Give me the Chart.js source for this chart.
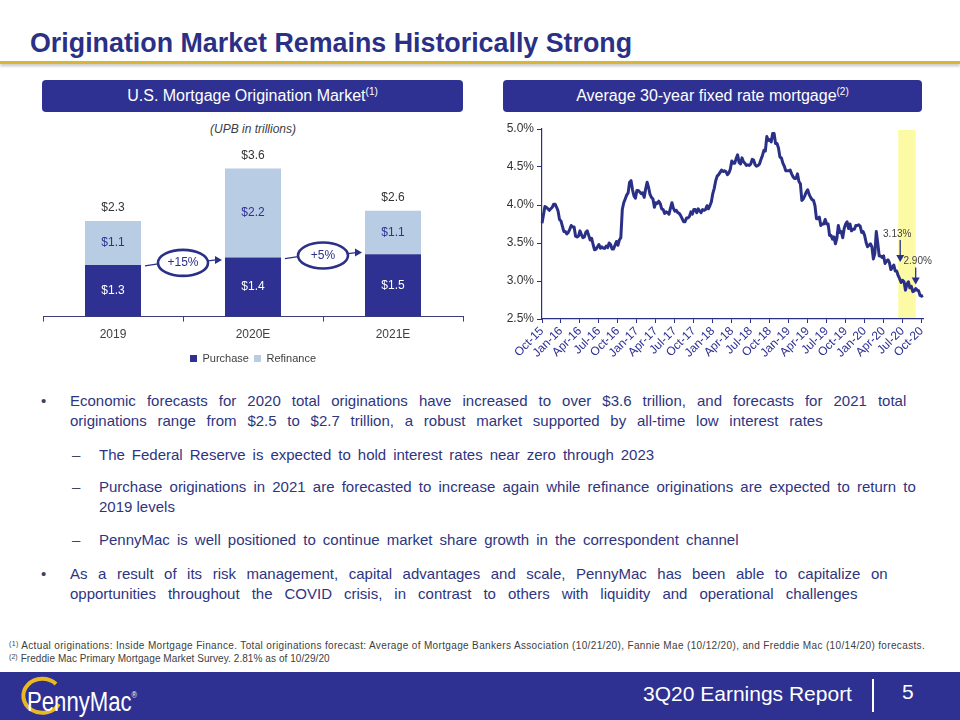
<!DOCTYPE html>
<html>
<head>
<meta charset="utf-8">
<script src="https://cdn.jsdelivr.net/npm/chart.js@4.4.1/dist/chart.umd.min.js"></script>
<style>
  body { margin: 0; width: 960px; height: 720px; position: relative; overflow: hidden; background: #fff;
         font-family: "Liberation Sans", Arial, sans-serif; }
  .abs { position: absolute; white-space: nowrap; }
  .title { left: 30px; top: 30px; font-weight: bold; font-size: 27px; line-height: 27px; color: #2b3087; transform-origin: left top; }
  .rule { position: absolute; left: 0; top: 61px; width: 960px; height: 3px; background: #d8b534; box-shadow: 0 2px 3px rgba(0,0,0,0.25); }
  .hdr { position: absolute; top: 80px; height: 32px; background: #2e3192; border-radius: 4px; color: #fff;
         font-size: 16px; line-height: 32px; text-align: center; }
  .hdr sup { font-size: 10px; line-height: 0; vertical-align: 6px; }
  .sub { left: 40px; width: 426px; top: 122px; text-align: center; font-style: italic; font-size: 12px; color: #404040; }
  .line { font-size: 15px; line-height: 20px; color: #2e3580; }
  .mark { font-size: 15px; line-height: 20px; color: #404060; }
  .note { font-size: 10px; line-height: 12px; color: #404040; }
  .note sup { font-size: 7px; line-height: 0; vertical-align: 3px; }
  .footer { position: absolute; left: 0; top: 672px; width: 960px; height: 48px; background: #2e3192; }
  .ftxt { color: #fff; font-size: 21px; line-height: 24px; }
</style>
</head>
<body>
<div class="abs title" id="title">Origination Market Remains Historically Strong</div>
<div class="rule"></div>

<div class="hdr" style="left:42px;width:421px;">U.S. Mortgage Origination Market<sup>(1)</sup></div>
<div class="hdr" style="left:503px;width:419px;">Average 30-year fixed rate mortgage<sup>(2)</sup></div>
<div class="abs sub">(UPB in trillions)</div>

<canvas id="barChart" class="abs" width="432" height="234" style="left:38px;top:140px;"></canvas>
<canvas id="rateChart" class="abs" width="440" height="251" style="left:495px;top:118px;"></canvas>

<div class="abs mark" style="left:41px;top:391px;">•</div>
<div class="abs line fit" data-w="836" style="left:70px;top:391px;">Economic forecasts for 2020 total originations have increased to over $3.6 trillion, and forecasts for 2021 total</div>
<div class="abs line fit" data-w="753" style="left:70px;top:411px;">originations range from $2.5 to $2.7 trillion, a robust market supported by all-time low interest rates</div>
<div class="abs mark" style="left:72px;top:445px;">–</div>
<div class="abs line fit" data-w="555" style="left:99px;top:445px;">The Federal Reserve is expected to hold interest rates near zero through 2023</div>
<div class="abs mark" style="left:72px;top:477px;">–</div>
<div class="abs line fit" data-w="817" style="left:99px;top:477px;">Purchase originations in 2021 are forecasted to increase again while refinance originations are expected to return to</div>
<div class="abs line" style="left:99px;top:497px;">2019 levels</div>
<div class="abs mark" style="left:72px;top:530px;">–</div>
<div class="abs line fit" data-w="640" style="left:99px;top:530px;">PennyMac is well positioned to continue market share growth in the correspondent channel</div>
<div class="abs mark" style="left:41px;top:564px;">•</div>
<div class="abs line fit" data-w="818" style="left:70px;top:564px;">As a result of its risk management, capital advantages and scale, PennyMac has been able to capitalize on</div>
<div class="abs line fit" data-w="787" style="left:70px;top:584px;">opportunities throughout the COVID crisis, in contrast to others with liquidity and operational challenges</div>

<div class="abs note fit" data-w="916" data-mode="letter" style="left:9px;top:640px;"><sup>(1)</sup> Actual originations: Inside Mortgage Finance. Total originations forecast: Average of Mortgage Bankers Association (10/21/20), Fannie Mae (10/12/20), and Freddie Mac (10/14/20) forecasts.</div>
<div class="abs note fit" data-w="321" data-mode="letter" style="left:9px;top:653px;"><sup>(2)</sup> Freddie Mac Primary Mortgage Market Survey. 2.81% as of 10/29/20</div>

<div class="footer"></div>
<svg class="abs" style="left:12px;top:674px;" width="60" height="46">
  <path d="M 44 10 A 19 17 0 1 0 47 30" fill="none" stroke="#e9b923" stroke-width="4"/>
</svg>
<div class="abs" style="left:27px;top:681px;color:#fff;font-size:27px;line-height:28px;transform:scaleX(0.82);transform-origin:left top;">PennyMac<sup style="font-size:9px;vertical-align:13px;">®</sup></div>
<div class="abs ftxt" style="left:643px;top:682px;">3Q20 Earnings Report</div>
<div class="abs" style="left:872px;top:679px;width:2px;height:33px;background:#fff;"></div>
<div class="abs ftxt" style="left:902px;top:680px;">5</div>

<script>
// ---- U.S. mortgage origination market (UPB, $ trillions)
const categories = ['2019', '2020E', '2021E'];
const purchase = [1.26, 1.44, 1.52];
const refinance = [1.07, 2.17, 1.06];
const growthLabels = ['+15%', '+5%'];

// ---- Freddie Mac PMMS 30-year fixed rate, weekly (%)
const rates2015 = [3.76, 3.87, 3.98, 3.97, 3.95, 3.93, 3.95, 3.97, 4.01, 4.01];
const rates2016 = [3.97, 3.92, 3.81, 3.79, 3.72, 3.65, 3.65, 3.62, 3.64, 3.68, 3.73, 3.71, 3.71,
    3.59, 3.58, 3.59, 3.66, 3.61, 3.57, 3.58, 3.64, 3.66, 3.60, 3.54, 3.56, 3.48,
    3.41, 3.42, 3.45, 3.48, 3.43, 3.45, 3.43, 3.43, 3.46, 3.44, 3.50, 3.48, 3.42,
    3.42, 3.47, 3.52, 3.47, 3.54, 3.57, 3.94, 4.03, 4.08, 4.13, 4.16, 4.30, 4.32];
const rates2017 = [4.20, 4.12, 4.09, 4.19, 4.19, 4.17, 4.15, 4.16, 4.10, 4.21, 4.30, 4.23, 4.14,
    4.10, 4.08, 3.97, 4.03, 4.02, 4.05, 4.02, 3.95, 3.94, 3.89, 3.91, 3.90, 3.88,
    3.96, 4.03, 3.96, 3.92, 3.93, 3.90, 3.89, 3.86, 3.82, 3.78, 3.78, 3.83, 3.83,
    3.85, 3.91, 3.88, 3.94, 3.94, 3.90, 3.95, 3.92, 3.90, 3.94, 3.93, 3.94, 3.99];
const rates2018 = [3.95, 3.99, 4.04, 4.15, 4.22, 4.32, 4.38, 4.40, 4.43, 4.46, 4.44, 4.45, 4.44,
    4.40, 4.42, 4.47, 4.58, 4.55, 4.55, 4.61, 4.66, 4.56, 4.54, 4.62, 4.57, 4.55,
    4.52, 4.53, 4.52, 4.54, 4.60, 4.59, 4.53, 4.51, 4.52, 4.54, 4.60, 4.65, 4.72,
    4.71, 4.90, 4.85, 4.86, 4.83, 4.94, 4.94, 4.81, 4.81, 4.75, 4.63, 4.62, 4.55];
const rates2019 = [4.51, 4.45, 4.45, 4.45, 4.46, 4.41, 4.37, 4.35, 4.35, 4.41, 4.31, 4.28, 4.06,
    4.08, 4.12, 4.17, 4.20, 4.14, 4.10, 4.07, 4.06, 3.99, 3.82, 3.82, 3.84, 3.73,
    3.75, 3.75, 3.81, 3.75, 3.75, 3.60, 3.60, 3.55, 3.58, 3.49, 3.56, 3.73, 3.64,
    3.65, 3.57, 3.69, 3.75, 3.78, 3.69, 3.75, 3.66, 3.68, 3.68, 3.73, 3.73, 3.74];
const rates2020 = [3.72, 3.64, 3.65, 3.60, 3.51, 3.45, 3.47, 3.49, 3.45, 3.29, 3.36, 3.65, 3.50,
    3.33, 3.33, 3.31, 3.33, 3.23, 3.26, 3.28, 3.24, 3.15, 3.18, 3.21, 3.13, 3.13,
    3.07, 3.03, 2.98, 3.01, 2.99, 2.88, 2.96, 2.99, 2.91, 2.93, 2.86, 2.87, 2.90,
    2.88, 2.87, 2.81, 2.80, 2.81];
const tickLabels = ['Oct-15', 'Jan-16', 'Apr-16', 'Jul-16', 'Oct-16', 'Jan-17', 'Apr-17', 'Jul-17',
    'Oct-17', 'Jan-18', 'Apr-18', 'Jul-18', 'Oct-18', 'Jan-19', 'Apr-19', 'Jul-19', 'Oct-19',
    'Jan-20', 'Apr-20', 'Jul-20', 'Oct-20'];
const weeksPerTick = 13;
const q3Weeks = [244, 256];      // shaded quarter (first / last week index)
const calloutWeeks = [243, 256]; // end of Q2 and end of Q3

const rates = [].concat(rates2015, rates2016, rates2017, rates2018, rates2019, rates2020);
const weekLabels = rates.map((_, i) => i % weeksPerTick === 0 ? tickLabels[i / weeksPerTick] : '');

const NAVY = '#2e3192';
const LINE = '#2b3087';
Chart.defaults.font.family = "'Liberation Sans', Arial, sans-serif";
Chart.defaults.animation = false;

// stretch text lines to the widths of the slide
document.querySelectorAll('#title').forEach(el => {
    el.style.transform = 'scaleX(' + (602 / el.offsetWidth) + ')';
});
document.querySelectorAll('.fit').forEach(el => {
    const target = +el.dataset.w;
    const diff = target - el.offsetWidth;
    if (el.dataset.mode === 'letter') {
        el.style.letterSpacing = (diff / el.textContent.length) + 'px';
    } else {
        const spaces = (el.textContent.match(/ /g) || []).length;
        el.style.wordSpacing = (diff / spaces) + 'px';
    }
});

const barLabels = {
    id: 'barLabels',
    afterDatasetsDraw(chart) {
        const ctx = chart.ctx;
        ctx.save();
        ctx.textAlign = 'center';
        ctx.textBaseline = 'middle';
        ctx.font = "12px 'Liberation Sans', Arial, sans-serif";
        chart.data.datasets.forEach((ds, di) => {
            chart.getDatasetMeta(di).data.forEach((bar, i) => {
                ctx.fillStyle = di === 0 ? '#ffffff' : NAVY;
                ctx.fillText('$' + ds.data[i].toFixed(1), bar.x, (bar.y + bar.base) / 2);
            });
        });
        chart.getDatasetMeta(1).data.forEach((bar, i) => {
            ctx.fillStyle = '#333333';
            ctx.fillText('$' + (purchase[i] + refinance[i]).toFixed(1), bar.x, bar.y - 13);
        });
        ctx.restore();
    }
};

const growthBubbles = {
    id: 'growthBubbles',
    afterDatasetsDraw(chart) {
        const { ctx, scales: { x, y } } = chart;
        const half = chart.getDatasetMeta(0).data[0].width / 2;
        ctx.save();
        growthLabels.forEach((label, i) => {
            const x0 = x.getPixelForValue(i) + half;
            const x1 = x.getPixelForValue(i + 1) - half;
            const cx = (x.getPixelForValue(i) + x.getPixelForValue(i + 1)) / 2;
            const cy = y.getPixelForValue(purchase[i]) - 2;
            const rx = 25, ry = 13;
            ctx.strokeStyle = LINE;
            ctx.fillStyle = LINE;
            ctx.lineWidth = 1.3;
            ctx.beginPath();
            ctx.moveTo(x0 + 4, cy + 3);
            ctx.lineTo(cx - rx, cy + 1);
            ctx.moveTo(cx + rx, cy - 2);
            ctx.lineTo(x1 - 9, cy - 3);
            ctx.stroke();
            ctx.beginPath();
            ctx.moveTo(x1 - 3, cy - 3);
            ctx.lineTo(x1 - 10, cy - 7);
            ctx.lineTo(x1 - 10, cy + 1);
            ctx.closePath();
            ctx.fill();
            ctx.beginPath();
            ctx.ellipse(cx, cy, rx, ry, 0, 0, Math.PI * 2);
            ctx.fillStyle = '#fff';
            ctx.fill();
            ctx.lineWidth = 2.6;
            ctx.stroke();
            ctx.fillStyle = LINE;
            ctx.textAlign = 'center';
            ctx.textBaseline = 'middle';
            ctx.font = "12px 'Liberation Sans', Arial, sans-serif";
            ctx.fillText(label, cx, cy);
        });
        ctx.restore();
    }
};

new Chart(document.getElementById('barChart'), {
    type: 'bar',
    data: {
        labels: categories,
        datasets: [
            { label: 'Purchase', data: purchase, backgroundColor: NAVY, barPercentage: 0.4, categoryPercentage: 1 },
            { label: 'Refinance', data: refinance, backgroundColor: '#b8cce4', barPercentage: 0.4, categoryPercentage: 1 }
        ]
    },
    options: {
        responsive: false,
        layout: { padding: { left: 5, right: 7, top: 12.5, bottom: 0 } },
        plugins: {
            legend: {
                position: 'bottom',
                labels: { boxWidth: 7, boxHeight: 7, color: '#404040', font: { size: 11 }, padding: 5 }
            },
            tooltip: { enabled: false }
        },
        scales: {
            x: {
                stacked: true,
                grid: { display: true, drawOnChartArea: false, offset: true, tickLength: 5, color: '#3a3f7a' },
                border: { color: '#3a3f7a' },
                ticks: { color: '#404040', font: { size: 12 }, padding: 6 }
            },
            y: { stacked: true, display: false, min: 0, max: 4 }
        }
    },
    plugins: [barLabels, growthBubbles]
});

const quarterBand = {
    id: 'quarterBand',
    beforeDatasetsDraw(chart) {
        const { ctx, chartArea, scales: { x } } = chart;
        const x0 = x.getPixelForValue(q3Weeks[0]);
        const x1 = x.getPixelForValue(q3Weeks[1]);
        ctx.save();
        ctx.fillStyle = '#fdfaa6';
        ctx.fillRect(x0, chartArea.top + 1, x1 - x0, chartArea.bottom - chartArea.top - 2);
        ctx.restore();
    },
    afterDatasetsDraw(chart) {
        const { ctx, scales: { x, y } } = chart;
        ctx.save();
        calloutWeeks.forEach((w, k) => {
            const px = x.getPixelForValue(w) + (k === 0 ? 3.5 : 0);
            const tip = y.getPixelForValue(rates[w]) - (k === 0 ? 9 : 4);
            const len = k === 0 ? 22 : 17;
            ctx.strokeStyle = LINE;
            ctx.fillStyle = LINE;
            ctx.lineWidth = 1.3;
            ctx.beginPath();
            ctx.moveTo(px, tip - len);
            ctx.lineTo(px, tip - 6);
            ctx.stroke();
            ctx.beginPath();
            ctx.moveTo(px, tip);
            ctx.lineTo(px - 4, tip - 7);
            ctx.lineTo(px + 4, tip - 7);
            ctx.closePath();
            ctx.fill();
            ctx.fillStyle = '#404040';
            ctx.font = "10px 'Liberation Sans', Arial, sans-serif";
            ctx.textAlign = 'center';
            ctx.textBaseline = 'middle';
            ctx.fillText(rates[w].toFixed(2) + '%', px + (k === 0 ? -3 : 2), tip - len - 6);
        });
        ctx.restore();
    }
};

new Chart(document.getElementById('rateChart'), {
    type: 'line',
    data: {
        labels: weekLabels,
        datasets: [{
            data: rates,
            borderColor: LINE,
            borderWidth: 3,
            borderJoinStyle: 'round',
            pointRadius: 0,
            tension: 0,
            fill: false
        }]
    },
    options: {
        responsive: false,
        layout: { padding: { left: 0, right: 12, top: 11, bottom: 0 } },
        plugins: { legend: { display: false }, tooltip: { enabled: false } },
        scales: {
            x: {
                grid: {
                    display: true, drawOnChartArea: false, tickLength: 4,
                    color: ctx => weekLabels[ctx.index] ? LINE : 'rgba(0,0,0,0)'
                },
                border: { color: LINE, width: 1.2 },
                ticks: {
                    autoSkip: false, minRotation: 45, maxRotation: 45, color: NAVY,
                    font: { size: 12 }, padding: 1
                },
                afterFit(scale) { scale.height = 50; }
            },
            y: {
                min: 2.5,
                max: 5.0,
                grid: { drawOnChartArea: false, tickLength: 5, color: LINE },
                border: { color: LINE, width: 1.2 },
                ticks: { stepSize: 0.5, color: '#333333', font: { size: 12 }, padding: 3,
                    callback: v => v.toFixed(1) + '%' },
                afterFit(scale) { scale.width = 47; }
            }
        }
    },
    plugins: [quarterBand]
});
</script>
</body>
</html>
